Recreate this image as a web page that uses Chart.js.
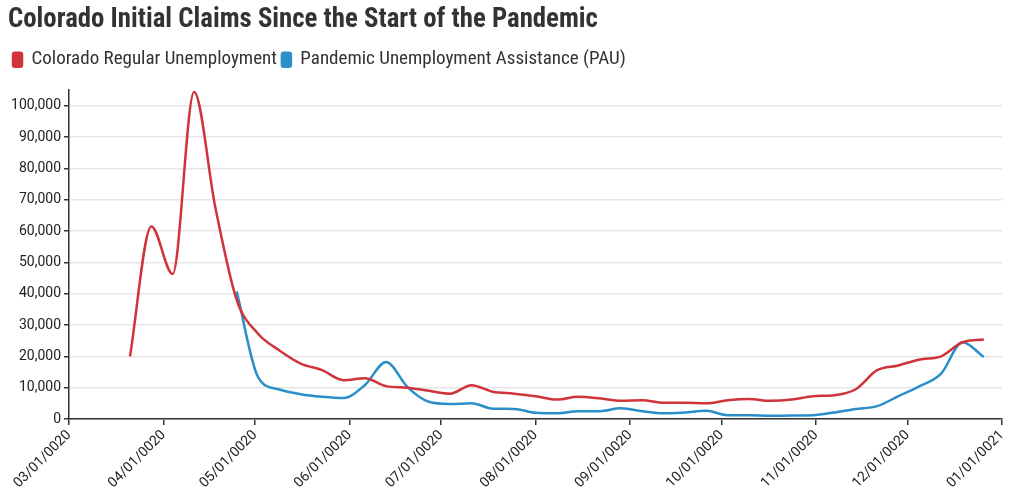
<!DOCTYPE html>
<html>
<head>
<meta charset="utf-8">
<title>Colorado Initial Claims</title>
<script src="https://cdn.jsdelivr.net/npm/chart.js@4/dist/chart.umd.min.js"></script>
<style>
  html, body { margin: 0; padding: 0; background: #fff; }
  #wrap { width: 1016px; height: 487px; position: relative; }
</style>
</head>
<body>
<div id="wrap"><canvas id="claimsChart"></canvas></div>
<script>
// Weekly initial claims, week ending dates (2020)
const weekEnding = [
  '03/21', '03/28', '04/04', '04/11', '04/18', '04/25', '05/02', '05/09', '05/16', '05/23',
  '05/30', '06/06', '06/13', '06/20', '06/27', '07/04', '07/11', '07/18', '07/25', '08/01',
  '08/08', '08/15', '08/22', '08/29', '09/05', '09/12', '09/19', '09/26', '10/03', '10/10',
  '10/17', '10/24', '10/31', '11/07', '11/14', '11/21', '11/28', '12/05', '12/12', '12/19',
  '12/26'
];

const regularClaims = [
  20000, 61500, 46300, 104400, 67500, 38000, 27200, 21900, 17700, 15600,
  12400, 13000, 10500, 10000, 9000, 8100, 10800, 8700, 8100, 7300,
  6200, 7100, 6600, 5800, 6000, 5200, 5200, 5000, 6000, 6400,
  5800, 6200, 7300, 7600, 9500, 15600, 17100, 19000, 20000, 24500,
  25400
];

// PUA program starts the week ending 04/25
const puaStart = '04/25';
const puaClaims = [
  40700, 13400, 9400, 7900, 7100, 6700, 10800, 18200, 10200, 5500,
  4800, 5000, 3300, 3200, 2000, 1800, 2500, 2500, 3400, 2500,
  1800, 2100, 2600, 1200, 1200, 1000, 1100, 1200, 2100, 3200,
  4100, 7300, 10500, 14500, 24500, 19800
];

const monthTicks = [
  '03/01/0020', '04/01/0020', '05/01/0020', '06/01/0020', '07/01/0020', '08/01/0020',
  '09/01/0020', '10/01/0020', '11/01/0020', '12/01/0020', '01/01/0021'
];

const yTicks = [0, 10000, 20000, 30000, 40000, 50000, 60000, 70000, 80000, 90000, 100000];

const RED = '#d1333a';
const BLUE = '#2a8fc8';

// days since March 1, 2020
function dayOf(mmdd, year) {
  const [m, d] = mmdd.split('/').map(Number);
  return (Date.UTC(year || 2020, m - 1, d) - Date.UTC(2020, 2, 1)) / 86400000;
}

const monthDays = monthTicks.map(t => dayOf(t.slice(0, 5), t.endsWith('21') ? 2021 : 2020));

const regularPoints = regularClaims.map((v, i) => ({ x: dayOf(weekEnding[i]), y: v }));
const puaOffset = weekEnding.indexOf(puaStart);
const puaPoints = puaClaims.map((v, i) => ({ x: dayOf(weekEnding[i + puaOffset]), y: v }));

const condensed = "'Roboto Condensed', 'Liberation Sans Narrow', 'DejaVu Sans Condensed', Roboto, sans-serif";

// leave some room between the legend and the plot
const legendGap = {
  id: 'legendGap',
  beforeInit(chart) {
    const fit = chart.legend.fit;
    chart.legend.fit = function () {
      fit.call(this);
      this.height += 11;
    };
  }
};

new Chart(document.getElementById('claimsChart'), {
  type: 'line',
  data: {
    datasets: [{
      label: 'Colorado Regular Unemployment',
      data: regularPoints,
      borderColor: RED,
      backgroundColor: RED,
      borderWidth: 2.5,
      pointRadius: 0,
      cubicInterpolationMode: 'monotone'
    }, {
      label: 'Pandemic Unemployment Assistance (PAU)',
      data: puaPoints,
      borderColor: BLUE,
      backgroundColor: BLUE,
      borderWidth: 2.5,
      pointRadius: 0,
      cubicInterpolationMode: 'monotone'
    }]
  },
  plugins: [legendGap],
  options: {
    responsive: true,
    maintainAspectRatio: false,
    animation: false,
    layout: { padding: { left: 8, right: 5, top: 0, bottom: 0 } },
    plugins: {
      title: {
        display: true,
        text: 'Colorado Initial Claims Since the Start of the Pandemic',
        align: 'start',
        color: '#333',
        font: { family: condensed, size: 26.8, weight: 'bold' },
        padding: { top: 4, bottom: 9 }
      },
      legend: {
        align: 'start',
        labels: {
          color: '#333',
          font: { family: condensed, size: 19 },
          boxWidth: 9,
          boxHeight: 14,
          useBorderRadius: true,
          borderRadius: 2,
          padding: 5
        }
      },
      tooltip: { enabled: false }
    },
    scales: {
      x: {
        type: 'linear',
        min: 0,
        max: monthDays[monthDays.length - 1],
        afterBuildTicks: s => { s.ticks = monthDays.map(v => ({ value: v })); },
        afterFit: s => { s.height = 68; },
        ticks: {
          color: '#222',
          font: { family: 'Roboto', size: 14 },
          minRotation: 45,
          maxRotation: 45,
          padding: 2,
          callback: (v, i) => monthTicks[i]
        },
        grid: { drawOnChartArea: false, color: '#333', tickLength: 6, lineWidth: 1.5 },
        border: { color: '#333', width: 1.5 }
      },
      y: {
        min: 0,
        max: 105000,
        afterBuildTicks: s => { s.ticks = yTicks.map(v => ({ value: v })); },
        afterFit: s => { s.width = 61; },
        ticks: {
          color: '#222',
          font: { family: 'Roboto', size: 14 },
          padding: 3,
          autoSkip: false,
          callback: v => v.toLocaleString('en-US')
        },
        grid: { color: '#e6e6e6', lineWidth: 1.5, tickColor: '#333', tickLength: 5 },
        border: { color: '#333', width: 1.5 }
      }
    }
  }
});
</script>
</body>
</html>
